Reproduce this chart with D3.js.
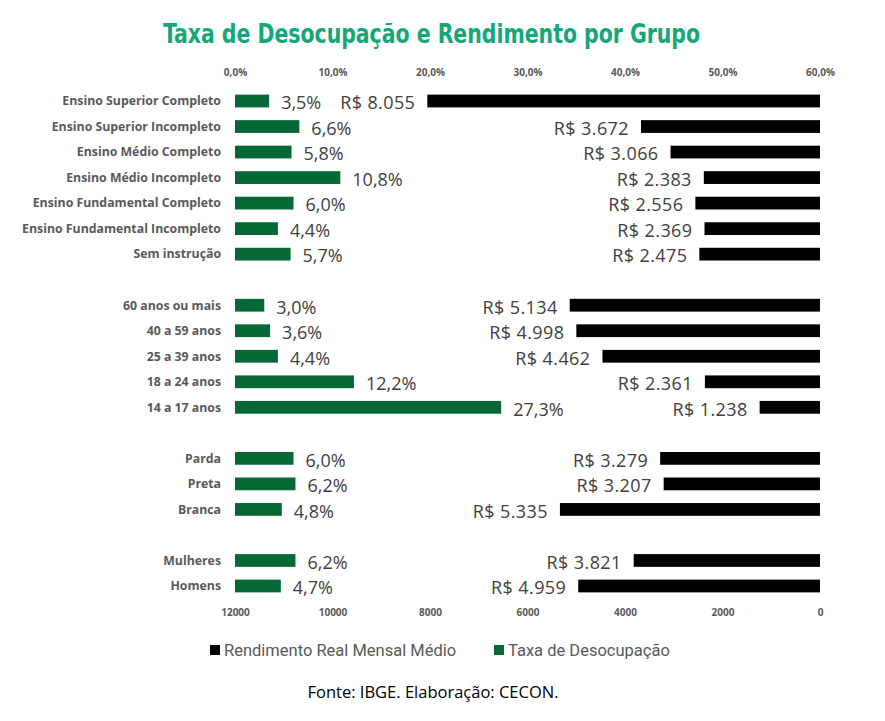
<!DOCTYPE html>
<html>
<head>
<meta charset="utf-8">
<script src="https://cdn.jsdelivr.net/npm/d3@7"></script>
<style>
  html, body { margin: 0; padding: 0; background: #ffffff; }
  svg { display: block; }
</style>
</head>
<body>
<svg id="chart" width="885" height="721"></svg>
<script>
// ---- data ----
const categories = [
  "Ensino Superior Completo", "Ensino Superior Incompleto", "Ensino Médio Completo",
  "Ensino Médio Incompleto", "Ensino Fundamental Completo", "Ensino Fundamental Incompleto",
  "Sem instrução", "",
  "60 anos ou mais", "40 a 59 anos", "25 a 39 anos", "18 a 24 anos", "14 a 17 anos", "",
  "Parda", "Preta", "Branca", "",
  "Mulheres", "Homens"
];
const taxaDesocupacao = [3.5, 6.6, 5.8, 10.8, 6.0, 4.4, 5.7, null,
  3.0, 3.6, 4.4, 12.2, 27.3, null,
  6.0, 6.2, 4.8, null,
  6.2, 4.7];
const rendimento = [8055, 3672, 3066, 2383, 2556, 2369, 2475, null,
  5134, 4998, 4462, 2361, 1238, null,
  3279, 3207, 5335, null,
  3821, 4959];
const pctTicks = [0, 10, 20, 30, 40, 50, 60];
const rendTicks = [12000, 10000, 8000, 6000, 4000, 2000, 0];
const titleText = "Taxa de Desocupação e Rendimento por Grupo";
const legendLabels = ["Rendimento Real Mensal Médio", "Taxa de Desocupação"];
const sourceText = "Fonte: IBGE. Elaboração: CECON.";

// ---- layout ----
const svg = d3.select("#chart");
const x0 = 235, x1 = 820;
const GREEN = "#066835", BLACK = "#000000";

const xPct = d3.scaleLinear().domain([0, 60]).range([x0, x1]);
const xRend = d3.scaleLinear().domain([12000, 0]).range([x0, x1]);
const y = d3.scaleBand().domain(d3.range(categories.length))
  .range([88.24, 598.76]).paddingInner(0.5).paddingOuter(0.25);

const rows = categories.map((c, i) => ({ i, c, t: taxaDesocupacao[i], r: rendimento[i] }));
const dataRows = rows.filter(d => d.t != null);

// title
svg.append("text")
  .attr("x", 163).attr("y", 43)
  .attr("textLength", 537).attr("lengthAdjust", "spacingAndGlyphs")
  .style("font-family", "'DejaVu Sans Condensed', 'DejaVu Sans', sans-serif")
  .style("font-weight", "bold").style("font-size", "27px")
  .style("fill", "#14a777")
  .text(titleText);

// top axis (percent)
const topAxis = d3.axisTop(xPct).tickValues(pctTicks)
  .tickFormat(d => d.toFixed(1).replace(".", ",") + "%").tickSize(0).tickPadding(0);
const gTop = svg.append("g").attr("transform", "translate(0,76)").call(topAxis);
gTop.select(".domain").remove();
gTop.selectAll("text").style("font-family", "'Open Sans', sans-serif")
  .style("font-weight", "bold").style("font-size", "10px").style("fill", "#595959");

// bottom axis (income)
const botAxis = d3.axisBottom(xRend).tickValues(rendTicks)
  .tickFormat(d => String(d)).tickSize(0).tickPadding(0);
const gBot = svg.append("g").attr("transform", "translate(0,609)").call(botAxis);
gBot.select(".domain").remove();
gBot.selectAll("text").style("font-family", "'Open Sans', sans-serif")
  .style("font-weight", "bold").style("font-size", "10px").style("fill", "#595959");

// category labels
svg.append("g").selectAll("text").data(dataRows).join("text")
  .attr("x", 221).attr("y", d => y(d.i) + y.bandwidth() / 2)
  .attr("dy", "0.35em").attr("text-anchor", "end")
  .style("font-family", "'Open Sans', sans-serif").style("font-weight", "bold")
  .style("font-size", "12.3px").style("fill", "#595959")
  .text(d => d.c);

// green bars
svg.append("g").selectAll("rect").data(dataRows).join("rect")
  .attr("x", xPct(0)).attr("y", d => y(d.i))
  .attr("width", d => xPct(d.t) - xPct(0)).attr("height", y.bandwidth())
  .attr("fill", GREEN);

// black bars
svg.append("g").selectAll("rect").data(dataRows).join("rect")
  .attr("x", d => xRend(d.r)).attr("y", d => y(d.i))
  .attr("width", d => xRend(0) - xRend(d.r)).attr("height", y.bandwidth())
  .attr("fill", BLACK);

// percent labels
svg.append("g").selectAll("text").data(dataRows).join("text")
  .attr("x", d => xPct(d.t) + 12).attr("y", d => y(d.i) + y.bandwidth() / 2 + 2)
  .attr("dy", "0.35em")
  .style("font-family", "'Open Sans', sans-serif").style("font-size", "18px")
  .style("fill", "#404040")
  .text(d => d.t.toFixed(1).replace(".", ",") + "%");

// income labels
svg.append("g").selectAll("text").data(dataRows).join("text")
  .attr("x", d => xRend(d.r) - 12).attr("y", d => y(d.i) + y.bandwidth() / 2 + 2)
  .attr("dy", "0.35em").attr("text-anchor", "end")
  .style("font-family", "'Open Sans', sans-serif").style("font-size", "18px")
  .style("letter-spacing", "0.4px")
  .style("fill", "#404040")
  .text(d => "R$ " + d3.format(",")(d.r).replace(/,/g, "."));

// legend
const legend = [
  { label: legendLabels[0], color: BLACK, x: 210 },
  { label: legendLabels[1], color: GREEN, x: 494 }
];
const lg = svg.append("g").selectAll("g").data(legend).join("g")
  .attr("transform", d => `translate(${d.x},650)`);
lg.append("rect").attr("x", 0).attr("y", -5).attr("width", 10).attr("height", 10)
  .attr("fill", d => d.color);
lg.append("text").attr("x", 14).attr("y", 0).attr("dy", "0.35em")
  .style("font-family", "Roboto, sans-serif").style("font-size", "16.5px")
  .style("fill", "#595959").text(d => d.label);

// source
svg.append("text").attr("x", 433).attr("y", 692).attr("dy", "0.35em")
  .attr("text-anchor", "middle")
  .style("font-family", "'Open Sans', sans-serif").style("font-size", "16.5px")
  .style("fill", "#000000").text(sourceText);
</script>
</body>
</html>
